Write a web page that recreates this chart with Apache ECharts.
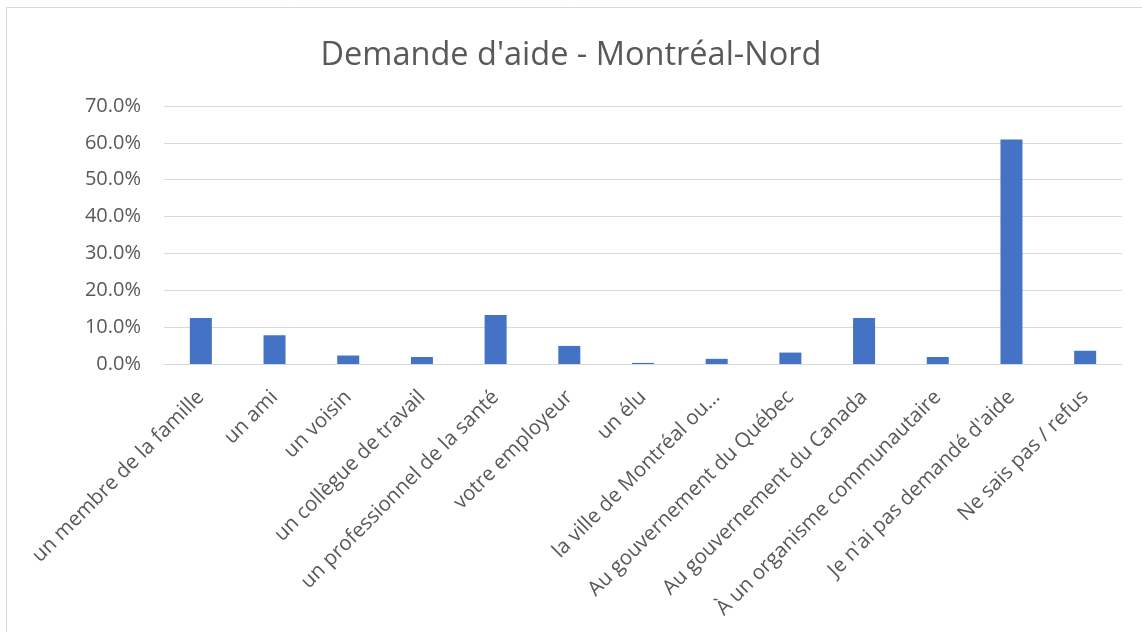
<!DOCTYPE html>
<html>
<head>
<meta charset="utf-8">
<script src="https://cdn.jsdelivr.net/npm/echarts@6/dist/echarts.min.js"></script>
<style>
html,body{margin:0;padding:0;background:#fff;}
#chart{width:1142px;height:632px;}
</style>
</head>
<body>
<div id="chart"></div>
<script>
const titleText = "Demande d'aide - Montréal-Nord";
const categories = [
  "un membre de la famille",
  "un ami",
  "un voisin",
  "un collègue de travail",
  "un professionnel de la santé",
  "votre employeur",
  "un élu",
  "la ville de Montréal ou…",
  "Au gouvernement du Québec",
  "Au gouvernement du Canada",
  "À un organisme communautaire",
  "Je n'ai pas demandé d'aide",
  "Ne sais pas / refus"
];
const values = [12.5, 7.8, 2.3, 1.9, 13.3, 4.9, 0.3, 1.4, 3.1, 12.5, 1.9, 60.9, 3.6];

const chart = echarts.init(document.getElementById('chart'));
chart.setOption({
  backgroundColor: '#ffffff',
  animation: false,
  graphic: [{
    type: 'rect',
    shape: {x: 6.5, y: 7.5, width: 1200, height: 700},
    style: {fill: 'none', stroke: '#d9d9d9', lineWidth: 1},
    silent: true
  }],
  title: {
    text: titleText,
    left: 'center',
    top: 34,
    textStyle: {fontFamily: 'Open Sans', fontSize: 32.5, fontWeight: 'normal', color: '#595959'}
  },
  grid: {left: 164, right: 20, top: 106, bottom: 268, containLabel: false},
  xAxis: {
    type: 'category',
    data: categories,
    axisLine: {show: true, lineStyle: {color: '#d9d9d9', width: 1}},
    axisTick: {show: false},
    axisLabel: {
      interval: 0,
      rotate: 45,
      margin: 30,
      fontFamily: 'Open Sans',
      fontSize: 20.5,
      color: '#595959'
    }
  },
  yAxis: {
    type: 'value',
    min: 0,
    max: 70,
    interval: 10,
    axisLine: {show: false},
    axisTick: {show: false},
    splitLine: {lineStyle: {color: '#d9d9d9', width: 1}},
    axisLabel: {
      formatter: v => v.toFixed(1) + '%',
      fontFamily: 'Open Sans',
      fontSize: 20,
      color: '#595959',
      margin: 23
    }
  },
  series: [{
    type: 'bar',
    data: values,
    barWidth: 22,
    itemStyle: {color: '#4472c4'}
  }]
});
</script>
</body>
</html>
